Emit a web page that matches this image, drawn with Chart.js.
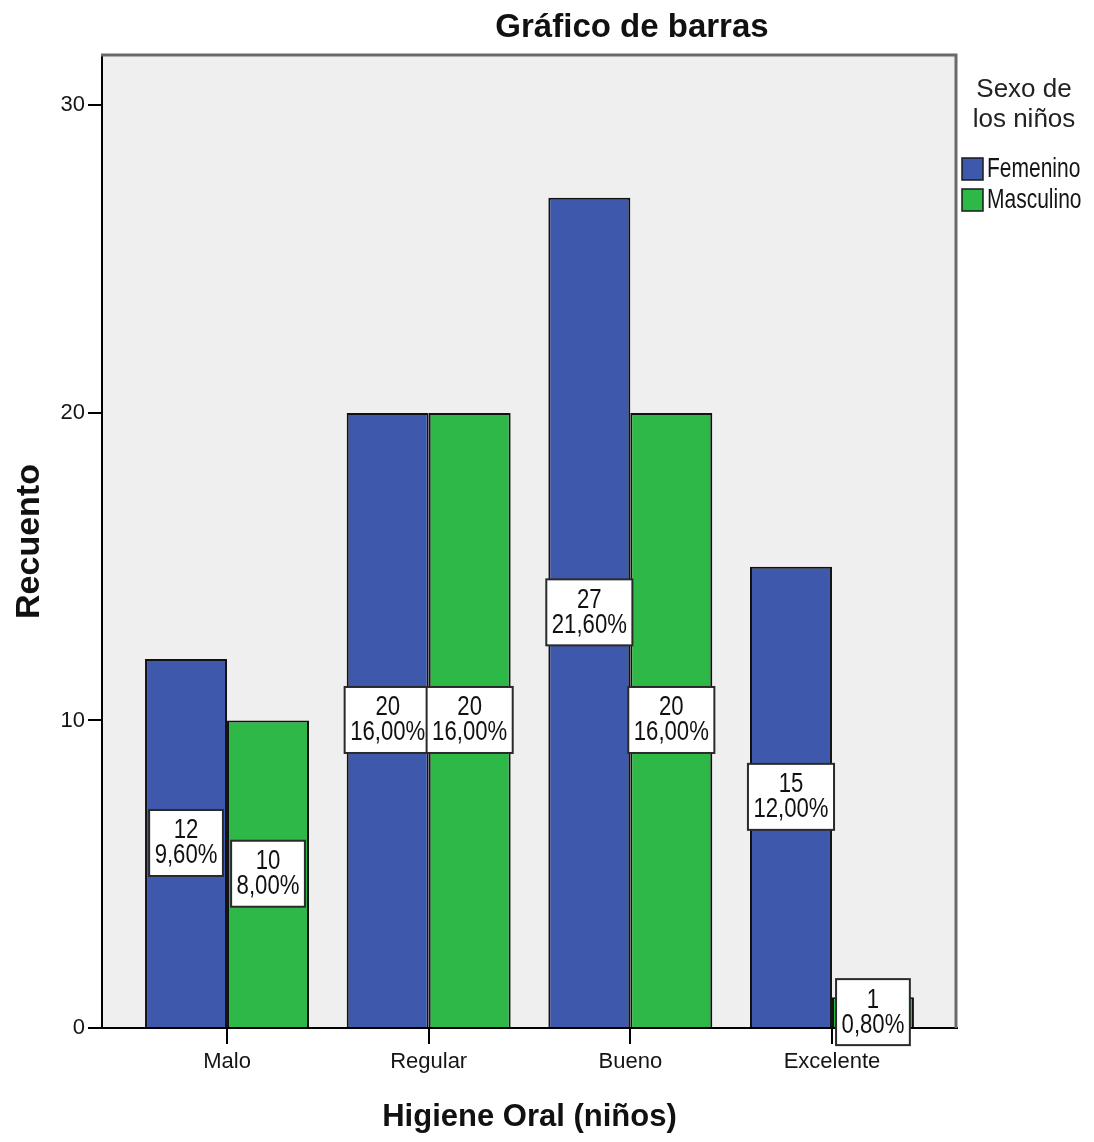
<!DOCTYPE html>
<html>
<head>
<meta charset="utf-8">
<title>Gráfico de barras</title>
<script src="https://cdn.jsdelivr.net/npm/chart.js@4.4.1/dist/chart.umd.min.js"></script>
<style>
  html, body { margin: 0; padding: 0; background: #ffffff; }
  canvas { display: block; }
</style>
</head>
<body>
<canvas id="chart" width="1094" height="1142"></canvas>
<script>
// Oral hygiene of the children, counted by sex
const categories = ['Malo', 'Regular', 'Bueno', 'Excelente'];
const femenino = [12, 20, 27, 15];
const masculino = [10, 20, 20, 1];
const femeninoPct = ['9,60%', '16,00%', '21,60%', '12,00%'];
const masculinoPct = ['8,00%', '16,00%', '16,00%', '0,80%'];
const yTicks = [0, 10, 20, 30];
const seriesNames = ['Femenino', 'Masculino'];
const legendTitle = ['Sexo de', 'los niños'];

const COLORS = ['#3e58ac', '#2eb848'];
const FONT = "'Liberation Sans', Arial, sans-serif";

Chart.defaults.font.family = FONT;
Chart.defaults.color = '#151515';

// draws text squeezed horizontally, like the narrow face used in the labels
function narrowText(ctx, text, x, y, size, squeeze, align) {
  ctx.save();
  ctx.font = size + 'px ' + FONT;
  ctx.textBaseline = 'middle';
  ctx.textAlign = align;
  ctx.translate(x, y);
  ctx.scale(squeeze, 1);
  ctx.fillText(text, 0, 0);
  ctx.restore();
}

const plotFrame = {
  id: 'plotFrame',
  beforeDraw(chart) {
    const { ctx, chartArea: a } = chart;
    ctx.save();
    ctx.fillStyle = '#efefef';
    ctx.fillRect(a.left, a.top, a.right - a.left, a.bottom - a.top);
    ctx.restore();
  },
  afterDraw(chart) {
    const { ctx, chartArea: a } = chart;
    ctx.save();
    ctx.strokeStyle = '#6a6a6a';
    ctx.lineWidth = 3;
    ctx.beginPath();
    ctx.moveTo(a.left - 1, a.top);
    ctx.lineTo(a.right - 1, a.top);
    ctx.lineTo(a.right - 1, a.bottom);
    ctx.stroke();

    // chart title
    ctx.fillStyle = '#111';
    ctx.font = 'bold 33px ' + FONT;
    ctx.textAlign = 'center';
    ctx.textBaseline = 'middle';
    ctx.fillText('Gráfico de barras', 632, 28);

    // legend
    ctx.fillStyle = '#222';
    narrowText(ctx, legendTitle[0], 1024, 90, 26, 1, 'center');
    narrowText(ctx, legendTitle[1], 1024, 120, 26, 1, 'center');
    seriesNames.forEach((name, i) => {
      const y = 158 + i * 31;
      ctx.fillStyle = COLORS[i];
      ctx.fillRect(962, y, 21, 22);
      ctx.strokeStyle = '#1a1a1a';
      ctx.lineWidth = 1.5;
      ctx.strokeRect(962, y, 21, 22);
      ctx.fillStyle = '#151515';
      narrowText(ctx, name, 987, y + 11, 28, 0.75, 'left');
    });
    ctx.restore();
  }
};

// boxed count + percentage in the middle of each bar
const barLabels = {
  id: 'barLabels',
  afterDatasetsDraw(chart) {
    const { ctx } = chart;
    const pcts = [femeninoPct, masculinoPct];
    chart.data.datasets.forEach((ds, d) => {
      const meta = chart.getDatasetMeta(d);
      meta.data.forEach((bar, i) => {
        const lines = [String(ds.data[i].y), pcts[d][i]];
        const size = 27, squeeze = 0.82;
        ctx.save();
        ctx.font = size + 'px ' + FONT;
        const tw = Math.max(...lines.map(t => ctx.measureText(t).width)) * squeeze;
        ctx.restore();
        const w = tw + 11, h = 66;
        const cx = bar.x, cy = (bar.y + bar.base) / 2;
        ctx.save();
        ctx.fillStyle = '#ffffff';
        ctx.fillRect(cx - w / 2, cy - h / 2, w, h);
        ctx.strokeStyle = '#2a2a2a';
        ctx.lineWidth = 2;
        ctx.strokeRect(cx - w / 2, cy - h / 2, w, h);
        ctx.fillStyle = '#111';
        narrowText(ctx, lines[0], cx, cy - 12, size, squeeze, 'center');
        narrowText(ctx, lines[1], cx, cy + 13, size, squeeze, 'center');
        ctx.restore();
      });
    });
  }
};

new Chart(document.getElementById('chart'), {
  type: 'bar',
  data: {
    datasets: [
      {
        label: seriesNames[0],
        data: femenino.map((v, i) => ({ x: i, y: v })),
        backgroundColor: COLORS[0],
        borderColor: '#111',
        borderWidth: 2
      },
      {
        label: seriesNames[1],
        data: masculino.map((v, i) => ({ x: i, y: v })),
        backgroundColor: COLORS[1],
        borderColor: '#111',
        borderWidth: 2
      }
    ]
  },
  options: {
    responsive: false,
    animation: false,
    devicePixelRatio: 1,
    categoryPercentage: 0.813,
    barPercentage: 1,
    layout: { padding: { top: 55, right: 137, left: 0, bottom: 0 } },
    plugins: {
      legend: { display: false },
      title: { display: false },
      tooltip: { enabled: false }
    },
    scales: {
      x: {
        type: 'linear',
        min: -0.62,
        max: 3.62,
        offset: false,
        afterBuildTicks(scale) {
          scale.ticks = categories.map((_, i) => ({ value: i }));
        },
        afterFit(scale) { scale.height = 114; },
        ticks: {
          callback: (v) => categories[v],
          font: { size: 22 },
          color: '#151515',
          padding: 5,
          maxRotation: 0,
          autoSkip: false
        },
        grid: {
          display: true,
          offset: false,
          drawOnChartArea: false,
          drawTicks: true,
          tickLength: 16,
          color: '#000',
          lineWidth: 2
        },
        border: { display: true, color: '#000', width: 2 },
        title: {
          display: true,
          text: 'Higiene Oral (niños)',
          font: { size: 31, weight: 'bold' },
          color: '#111',
          padding: { bottom: 6, top: 0 }
        }
      },
      y: {
        min: 0,
        max: 31.64,
        afterBuildTicks(scale) {
          scale.ticks = yTicks.map(v => ({ value: v }));
        },
        afterFit(scale) { scale.width = 102; },
        ticks: {
          font: { size: 22 },
          color: '#151515',
          padding: 3
        },
        grid: {
          display: true,
          drawOnChartArea: false,
          drawTicks: true,
          tickLength: 14,
          color: '#000',
          lineWidth: 2
        },
        border: { display: true, color: '#000', width: 2 },
        title: {
          display: true,
          text: 'Recuento',
          font: { size: 34, weight: 'bold' },
          color: '#111',
          padding: { top: 9, bottom: 0 }
        }
      }
    }
  },
  plugins: [plotFrame, barLabels]
});
</script>
</body>
</html>
